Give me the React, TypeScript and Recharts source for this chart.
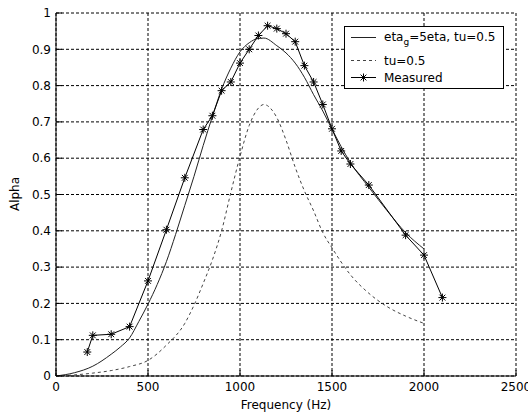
import { LineChart, Line, XAxis, YAxis, CartesianGrid } from "recharts";

const freqTicks = [0, 500, 1000, 1500, 2000, 2500];
const alphaTicks = [0, 0.1, 0.2, 0.3, 0.4, 0.5, 0.6, 0.7, 0.8, 0.9, 1];

// eta_g = 5eta, tu = 0.5 (solid)
const etaFreq = [0, 100, 200, 300, 350, 400, 450, 500, 550, 600, 650, 700, 750, 800, 850, 900, 950, 1000, 1050, 1100, 1130, 1200, 1250, 1300, 1350, 1400, 1450, 1500, 1600, 1700, 1800, 1900, 2000];
const etaAlpha = [0, 0.009, 0.027, 0.06, 0.08, 0.105, 0.15, 0.198, 0.252, 0.315, 0.39, 0.47, 0.55, 0.635, 0.715, 0.79, 0.848, 0.893, 0.918, 0.93, 0.931, 0.91, 0.89, 0.862, 0.823, 0.775, 0.73, 0.68, 0.588, 0.52, 0.455, 0.395, 0.35];

// tu = 0.5 (dashed)
const tuFreq = [0, 100, 200, 300, 400, 500, 600, 700, 750, 800, 850, 900, 950, 1000, 1050, 1100, 1130, 1175, 1200, 1250, 1300, 1350, 1400, 1450, 1500, 1600, 1700, 1800, 1900, 2000];
const tuAlpha = [0, 0.003, 0.008, 0.015, 0.026, 0.043, 0.085, 0.145, 0.195, 0.255, 0.32, 0.4, 0.505, 0.605, 0.69, 0.738, 0.748, 0.732, 0.712, 0.65, 0.575, 0.51, 0.455, 0.395, 0.353, 0.279, 0.228, 0.191, 0.165, 0.145];

// Measured
const measFreq = [170, 200, 300, 400, 500, 600, 700, 800, 850, 900, 950, 1000, 1050, 1100, 1150, 1200, 1250, 1300, 1350, 1400, 1450, 1500, 1550, 1600, 1700, 1900, 2000, 2100];
const measAlpha = [0.066, 0.112, 0.115, 0.136, 0.262, 0.403, 0.546, 0.679, 0.717, 0.786, 0.81, 0.862, 0.9, 0.938, 0.965, 0.957, 0.943, 0.921, 0.855, 0.81, 0.748, 0.681, 0.62, 0.584, 0.526, 0.388, 0.333, 0.216];

const etaData = etaFreq.map((f, i) => ({ f, a: etaAlpha[i] }));
const tuData = tuFreq.map((f, i) => ({ f, a: tuAlpha[i] }));
const measData = measFreq.map((f, i) => ({ f, a: measAlpha[i] }));

const FONT = "'DejaVu Sans', sans-serif";

const Star = (p: any) => {
  const { cx, cy, index } = p;
  if (cx == null || cy == null) return <g key={`s-${index}`} />;
  const r = 4;
  const d = 2.9;
  return (
    <g key={`s-${index}`} stroke="#000" strokeWidth={1}>
      <line x1={cx - r} y1={cy} x2={cx + r} y2={cy} />
      <line x1={cx} y1={cy - r} x2={cx} y2={cy + r} />
      <line x1={cx - d} y1={cy - d} x2={cx + d} y2={cy + d} />
      <line x1={cx - d} y1={cy + d} x2={cx + d} y2={cy - d} />
    </g>
  );
};

const XLabel = () => (
  <text x={286} y={409} textAnchor="middle" fontSize={12} fontFamily={FONT} fill="#000">
    Frequency (Hz)
  </text>
);

const YLabel = () => (
  <text x={15} y={194} transform="rotate(-90 15 194)" textAnchor="middle" dominantBaseline="central" fontSize={12} fontFamily={FONT} fill="#000">
    Alpha
  </text>
);

function LegendBox() {
  return (
    <div style={{ position: "absolute", left: 344, top: 26, width: 160, height: 63, background: "#fff", border: "1px solid #000", boxSizing: "border-box" }}>
      <svg width={158} height={61} style={{ display: "block" }} fontFamily={FONT} fontSize={12}>
        <line x1={6} y1={10.5} x2={31} y2={10.5} stroke="#222" />
        <text x={39} y={14} fill="#000">
          eta<tspan fontSize={9} dy={4}>g</tspan><tspan dy={-4}>=5eta, tu=0.5</tspan>
        </text>
        <line x1={6} y1={33.5} x2={31} y2={33.5} stroke="#444" strokeDasharray="3 3" />
        <text x={39} y={38} fill="#000">tu=0.5</text>
        <line x1={6} y1={50.5} x2={31} y2={50.5} stroke="#000" />
        <Star cx={18.5} cy={50.5} index={0} />
        <text x={39} y={55} fill="#000">Measured</text>
      </svg>
    </div>
  );
}

export default function App() {
  return (
    <div style={{ position: "absolute", left: 0, top: 0, width: 528, height: 419, background: "#fff" }}>
      <LineChart width={528} height={419} margin={{ top: 13, right: 12, bottom: 0, left: 0 }} style={{ fontFamily: FONT }}>
        <CartesianGrid stroke="#000" strokeDasharray="3 2" strokeWidth={1} />
        <XAxis
          dataKey="f"
          type="number"
          domain={[0, 2500]}
          ticks={freqTicks}
          height={43}
          allowDataOverflow
          stroke="#000"
          tickSize={-6}
          tickMargin={12}
          tick={{ fill: "#000", fontSize: 12, fontFamily: FONT }}
          label={<XLabel />}
        />
        <XAxis
          xAxisId="top"
          orientation="top"
          type="number"
          domain={[0, 2500]}
          ticks={freqTicks}
          height={0}
          allowDataOverflow
          stroke="#000"
          tickSize={-6}
          tick={false}
        />
        <YAxis
          type="number"
          domain={[0, 1]}
          ticks={alphaTicks}
          width={56}
          allowDataOverflow
          stroke="#000"
          tickSize={-6}
          tickMargin={11}
          tick={{ fill: "#000", fontSize: 12, fontFamily: FONT }}
          label={<YLabel />}
        />
        <YAxis
          yAxisId="right"
          orientation="right"
          type="number"
          domain={[0, 1]}
          ticks={alphaTicks}
          width={0}
          allowDataOverflow
          stroke="#000"
          tickSize={-6}
          tick={false}
        />
        <Line data={etaData} dataKey="a" type="monotone" stroke="#222" strokeWidth={1} dot={false} isAnimationActive={false} />
        <Line data={tuData} dataKey="a" type="monotone" stroke="#444" strokeWidth={1} strokeDasharray="3 3" dot={false} isAnimationActive={false} />
        <Line data={measData} dataKey="a" type="linear" stroke="#000" strokeWidth={1} dot={Star} isAnimationActive={false} />
      </LineChart>
      <LegendBox />
    </div>
  );
}
